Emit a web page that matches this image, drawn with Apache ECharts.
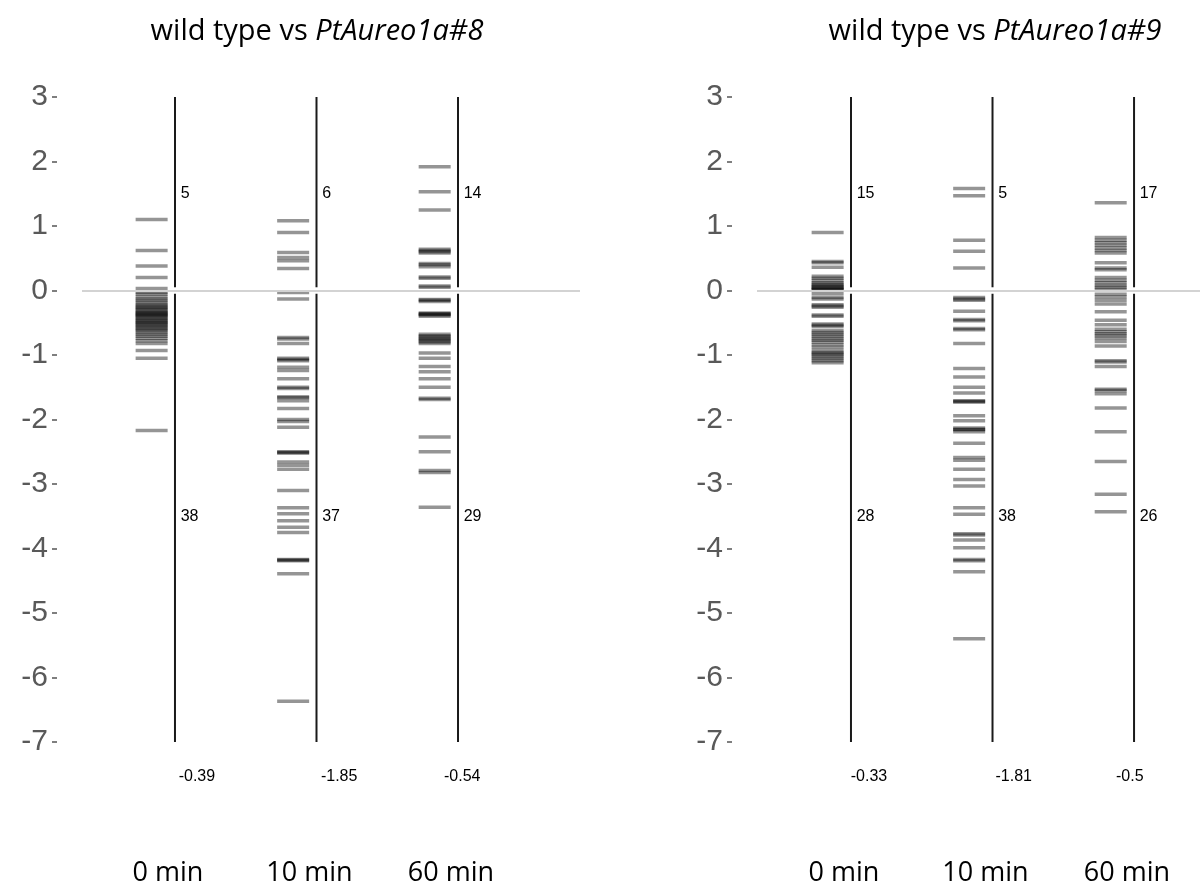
<!DOCTYPE html>
<html>
<head>
<meta charset="utf-8">
<script src="https://cdn.jsdelivr.net/npm/echarts@6/dist/echarts.min.js"></script>
<style>html,body{margin:0;padding:0;background:#fff}#c{width:1200px;height:889px}</style>
</head>
<body>
<div id="c"></div>
<script>
// ---------- DATA ----------
const categories = ['0 min', '10 min', '60 min'];
const titles = ['PtAureo1a#8', 'PtAureo1a#9'];

// panel 1: wild type vs PtAureo1a#8
const p1_0min = [1.10, 0.62, 0.38, 0.20, 0.03,
  -0.03, -0.06, -0.10, -0.13, -0.16, -0.19, -0.22, -0.24, -0.26, -0.28, -0.30, -0.32, -0.34, -0.35, -0.37, -0.38, -0.39,
  -0.41, -0.43, -0.45, -0.47, -0.49, -0.50, -0.52, -0.54, -0.56, -0.58, -0.60, -0.62, -0.65, -0.68, -0.71, -0.74, -0.78, -0.82,
  -0.93, -1.05, -2.17];
const p1_10min = [1.08, 0.90, 0.59, 0.51, 0.46, 0.34,
  -0.03, -0.13, -0.73, -0.75, -0.82, -1.05, -1.07, -1.09, -1.19, -1.24, -1.37, -1.50, -1.52, -1.65, -1.66, -1.71, -1.83,
  -2.00, -2.03, -2.12, -2.50, -2.51, -2.52, -2.66, -2.71, -2.77, -3.10, -3.37, -3.46, -3.57, -3.67, -3.75, -4.17, -4.18, -4.19, -4.39, -6.37];
const p1_60min = [1.92, 1.53, 1.25, 0.64, 0.62, 0.60, 0.58, 0.42, 0.40, 0.37, 0.21, 0.19, 0.07, 0.05,
  -0.14, -0.15, -0.17, -0.35, -0.36, -0.37, -0.38, -0.40, -0.68, -0.70, -0.72, -0.74, -0.76, -0.78, -0.80, -0.82,
  -0.97, -1.05, -1.18, -1.26, -1.37, -1.50, -1.67, -1.69, -2.27, -2.50, -2.79, -2.82, -3.36];

// panel 2: wild type vs PtAureo1a#9
const p2_0min = [0.90, 0.45, 0.43, 0.36, 0.22, 0.19, 0.16, 0.12, 0.10, 0.08, 0.06, 0.05, 0.03, 0.02, 0.01,
  -0.05, -0.11, -0.13, -0.22, -0.24, -0.26, -0.38, -0.40, -0.52, -0.54, -0.56, -0.62, -0.65, -0.68, -0.71, -0.74,
  -0.77, -0.80, -0.84, -0.88, -0.93, -0.96, -0.98, -1.00, -1.03, -1.06, -1.09, -1.12];
const p2_10min = [1.58, 1.47, 0.78, 0.61, 0.35,
  -0.11, -0.13, -0.15, -0.32, -0.45, -0.47, -0.59, -0.61, -0.82, -1.21, -1.34, -1.50, -1.59, -1.71, -1.72, -1.73,
  -1.94, -2.02, -2.13, -2.15, -2.16, -2.19, -2.37, -2.59, -2.63, -2.77, -2.93, -3.03, -3.37, -3.47, -3.77, -3.79,
  -3.87, -3.99, -4.17, -4.19, -4.36, -5.40];
const p2_60min = [1.36, 0.82, 0.78, 0.74, 0.70, 0.66, 0.62, 0.58, 0.43, 0.35, 0.32, 0.20, 0.16, 0.12, 0.08, 0.05, 0.02,
  -0.06, -0.10, -0.15, -0.21, -0.33, -0.46, -0.53, -0.60, -0.64, -0.67, -0.70, -0.74, -0.79, -0.86,
  -1.09, -1.11, -1.18, -1.53, -1.55, -1.60, -1.82, -2.19, -2.65, -3.16, -3.43];

const upCounts1 = [5, 6, 14];
const downCounts1 = [38, 37, 29];
const medians1 = ['-0.39', '-1.85', '-0.54'];
const upCounts2 = [15, 5, 17];
const downCounts2 = [28, 38, 26];
const medians2 = ['-0.33', '-1.81', '-0.5'];

const yMin = -7, yMax = 3;

// ---------- LAYOUT ----------
const panels = [
  { cols: [p1_0min, p1_10min, p1_60min], up: upCounts1, down: downCounts1, med: medians1,
    left: 82, width: 498, xMin: -0.657, xMax: 2.862, medOff: [0.155, 0.16, 0.03], titleX: 312 },
  { cols: [p2_0min, p2_10min, p2_60min], up: upCounts2, down: downCounts2, med: medians2,
    left: 757, width: 443, xMin: -0.664, xMax: 2.466, medOff: [0.127, 0.15, -0.03], titleX: 990 }
];
const FONT = '"Open Sans", "Liberation Sans", sans-serif';
const SMALL = '16px "Liberation Sans", Arial, sans-serif';

const chart = echarts.init(document.getElementById('c'), null, { renderer: 'canvas' });

const grids = [], xAxes = [], yAxes = [], series = [], titleArr = [];
panels.forEach((p, pi) => {
  grids.push({ left: p.left, top: 97, width: p.width, height: 645 });
  xAxes.push({ type: 'value', gridIndex: pi, min: p.xMin, max: p.xMax, show: false });
  yAxes.push({
    type: 'value', gridIndex: pi, min: yMin, max: yMax, interval: 1, offset: 25,
    axisLine: { show: false, onZero: false }, splitLine: { show: false },
    axisTick: { show: true, length: 5, lineStyle: { color: '#555', width: 1.5 } },
    axisLabel: { fontSize: 30, color: '#595959', margin: 9, fontFamily: '"Liberation Sans", Arial, sans-serif' }
  });
  titleArr.push({
    text: '{n|wild type vs }{i|' + titles[pi] + '}',
    left: p.titleX, top: 12, textAlign: 'center',
    textStyle: { fontWeight: 'normal', rich: {
      n: { fontSize: 29, fontFamily: FONT, fontWeight: 'normal', color: '#000' },
      i: { fontSize: 29, fontFamily: FONT, fontWeight: 'normal', fontStyle: 'italic', color: '#000' }
    } }
  });
  // zero line
  series.push({
    type: 'line', xAxisIndex: pi, yAxisIndex: pi, data: [], silent: true,
    markLine: { symbol: 'none', silent: true, label: { show: false },
      lineStyle: { color: '#d3d3d3', width: 2, type: 'solid' }, data: [{ yAxis: 0 }] }
  });
  // dashes
  p.cols.forEach((vals, ci) => {
    series.push({
      type: 'scatter', xAxisIndex: pi, yAxisIndex: pi, silent: true,
      symbol: 'rect', symbolSize: [32, 3.5],
      itemStyle: { color: 'rgba(0,0,0,0.52)' },
      data: vals.map(v => [ci - 0.165, v])
    });
  });
  // vertical lines + labels
  series.push({
    type: 'custom', xAxisIndex: pi, yAxisIndex: pi, silent: true, clip: false,
    data: categories.map((c, ci) => [ci, 0]),
    renderItem: function (params, api) {
      const ci = api.value(0);
      const a = api.coord([ci, yMax]), b = api.coord([ci, 0.05]);
      const c2 = api.coord([ci, -0.05]), d = api.coord([ci, yMin]);
      const lineStyle = { stroke: '#1a1a1a', lineWidth: 2 };
      const up = api.coord([ci + 0.04, 1.51]);
      const dn = api.coord([ci + 0.04, -3.51]);
      const md = api.coord([ci + p.medOff[ci], -7.54]);
      const cat = api.coord([ci - 0.05, -9.03]);
      return { type: 'group', children: [
        { type: 'line', shape: { x1: a[0], y1: a[1], x2: b[0], y2: b[1] }, style: lineStyle },
        { type: 'line', shape: { x1: c2[0], y1: c2[1], x2: d[0], y2: d[1] }, style: lineStyle },
        { type: 'text', x: up[0], y: up[1], style: { text: String(p.up[ci]), fill: '#000',
          font: SMALL, align: 'left', verticalAlign: 'middle' } },
        { type: 'text', x: dn[0], y: dn[1], style: { text: String(p.down[ci]), fill: '#000',
          font: SMALL, align: 'left', verticalAlign: 'middle' } },
        { type: 'text', x: md[0], y: md[1], style: { text: p.med[ci], fill: '#000',
          font: SMALL, align: 'center', verticalAlign: 'middle' } },
        { type: 'text', x: cat[0], y: cat[1], style: { text: categories[ci], fill: '#000',
          font: '27px ' + FONT, align: 'center', verticalAlign: 'middle' } }
      ] };
    }
  });
});

chart.setOption({
  animation: false,
  backgroundColor: '#fff',
  title: titleArr,
  grid: grids,
  xAxis: xAxes,
  yAxis: yAxes,
  series: series
});
</script>
</body>
</html>
